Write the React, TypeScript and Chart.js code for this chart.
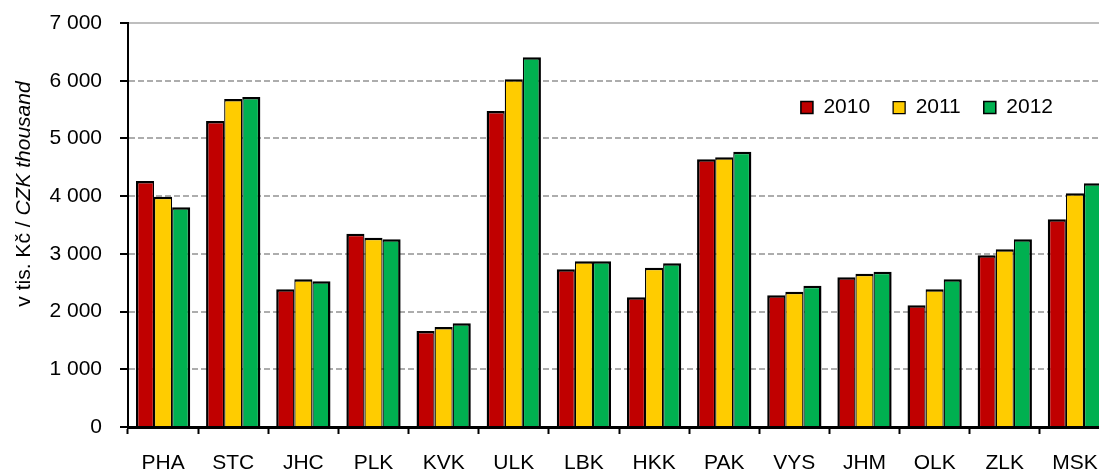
import React, { useEffect, useRef } from 'react';
import { Chart, registerables } from 'chart.js';

Chart.register(...registerables);

const categories = ['PHA', 'STC', 'JHC', 'PLK', 'KVK', 'ULK', 'LBK', 'HKK', 'PAK', 'VYS', 'JHM', 'OLK', 'ZLK', 'MSK'];
const years = ['2010', '2011', '2012'];
const values2010 = [4263, 5302, 2386, 3350, 1663, 5476, 2732, 2247, 4638, 2282, 2594, 2109, 2975, 3599];
const values2011 = [3990, 5684, 2559, 3280, 1733, 6025, 2871, 2761, 4673, 2345, 2657, 2386, 3079, 4050];
const values2012 = [3807, 5718, 2525, 3252, 1797, 6406, 2871, 2836, 4771, 2448, 2691, 2559, 3252, 4223];
const yTicks = [0, 1000, 2000, 3000, 4000, 5000, 6000, 7000];
const yTitleNormal = 'v tis. Kč / ';
const yTitleItalic = 'CZK thousand';

const FONT = '"Liberation Sans", Arial, Helvetica, sans-serif';

const fmt = (v: number) => String(v).replace(/\B(?=(\d{3})+(?!\d))/g, ' ');

export default function App() {
  const ref = useRef<HTMLCanvasElement>(null);

  useEffect(() => {
    if (!ref.current) return;

    const yTitlePlugin = {
      id: 'yTitlePlugin',
      afterDraw(chart: any) {
        const ctx = chart.ctx;
        ctx.save();
        ctx.translate(30, 194);
        ctx.rotate(-Math.PI / 2);
        ctx.fillStyle = '#000';
        ctx.textBaseline = 'alphabetic';
        ctx.textAlign = 'left';
        const fN = `21px ${FONT}`;
        const fI = `italic 21px ${FONT}`;
        ctx.font = fN;
        const w1 = ctx.measureText(yTitleNormal).width;
        ctx.font = fI;
        const w2 = ctx.measureText(yTitleItalic).width;
        const start = -(w1 + w2) / 2;
        ctx.font = fN;
        ctx.fillText(yTitleNormal, start, 0);
        ctx.font = fI;
        ctx.fillText(yTitleItalic, start + w1, 0);
        ctx.restore();
      },
    };

    const legendPlacer = {
      id: 'legendPlacer',
      beforeUpdate(chart: any) {
        const lg = chart.legend;
        if (lg && !lg.__patched) {
          lg.isHorizontal = () => true;
          lg.__patched = true;
        }
      },
      afterLayout(chart: any) {
        const lg = chart.legend;
        if (!lg) return;
        lg.left = 600;
        lg.right = 1076;
        lg.top = 74;
        lg.bottom = 160;
        lg.width = lg.right - lg.left;
        lg.height = lg.bottom - lg.top;
      },
    };

    const chart = new Chart(ref.current, {
      type: 'bar',
      data: {
        labels: categories,
        datasets: [
          {
            label: years[0],
            data: values2010,
            backgroundColor: '#C00000',
            borderColor: '#000000',
            borderWidth: { top: 2.5, left: 2.5, right: 1.25, bottom: 0 },
          },
          {
            label: years[1],
            data: values2011,
            backgroundColor: '#FFCC00',
            borderColor: '#000000',
            borderWidth: { top: 2.5, left: 1.25, right: 1.25, bottom: 0 },
          },
          {
            label: years[2],
            data: values2012,
            backgroundColor: '#00B050',
            borderColor: '#000000',
            borderWidth: { top: 2.5, left: 1.25, right: 2.5, bottom: 0 },
          },
        ],
      },
      options: {
        responsive: false,
        animation: false,
        devicePixelRatio: 1,
        layout: { padding: { top: 23, right: 10, left: 0, bottom: 0 } },
        datasets: { bar: { categoryPercentage: 0.774, barPercentage: 1 } },
        plugins: {
          legend: {
            position: 'chartArea',
            align: 'end',
            labels: {
              boxWidth: 12,
              boxHeight: 12,
              padding: 23,
              color: '#000',
              font: { family: FONT, size: 21 },
            },
          },
          tooltip: { enabled: false },
          title: { display: false },
        },
        scales: {
          x: {
            grid: {
              offset: true,
              drawOnChartArea: false,
              drawTicks: true,
              tickLength: 7,
              tickColor: '#000',
              tickWidth: 2,
              color: '#000',
            },
            border: { color: '#000', width: 3, z: 1 },
            ticks: {
              color: '#000',
              font: { family: FONT, size: 21 },
              padding: 17,
              maxRotation: 0,
              autoSkip: false,
            },
            afterFit: (s: any) => {
              s.height = 49;
            },
          },
          y: {
            min: 0,
            max: 7000,
            afterBuildTicks: (s: any) => {
              s.ticks = yTicks.map((v) => ({ value: v }));
            },
            ticks: {
              color: '#000',
              font: { family: FONT, size: 21 },
              padding: 18,
              callback: (v: any) => fmt(Number(v)),
            },
            grid: {
              color: (c: any) => (c.tick && c.tick.value === 7000 ? '#BEBEBE' : '#ADADAD'),
              lineWidth: 2,
              tickColor: '#000',
              tickWidth: 2,
              tickLength: 8,
            },
            border: {
              color: '#000',
              width: 2,
              z: 1,
              dash: (c: any) => (c.tick && c.tick.value === 7000 ? [] : [6, 3]),
            },
            afterFit: (s: any) => {
              s.width = 128;
              s.paddingTop = 0;
              s.paddingBottom = 0;
            },
          },
        },
      } as any,
      plugins: [yTitlePlugin, legendPlacer],
    });

    return () => chart.destroy();
  }, []);

  return (
    <div
      style={{
        position: 'absolute',
        left: 0,
        top: 0,
        width: 1099,
        height: 476,
        overflow: 'hidden',
        background: '#fff',
      }}
    >
      <canvas ref={ref} width={1120} height={476} style={{ display: 'block' }} />
    </div>
  );
}
